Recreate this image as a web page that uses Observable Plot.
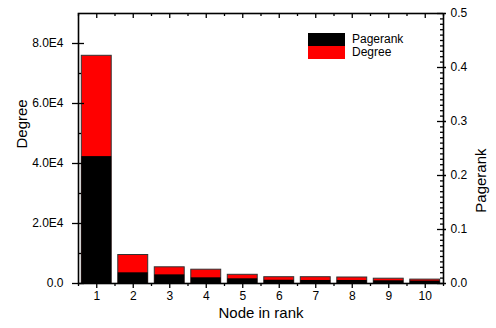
<!DOCTYPE html>
<html><head><meta charset="utf-8">
<script src="https://cdn.jsdelivr.net/npm/d3@7"></script>
<script src="https://cdn.jsdelivr.net/npm/@observablehq/plot@0.6"></script>
<style>
body{margin:0;background:#fff}
#chart{position:relative;width:496px;height:328px;font-family:"Liberation Sans",Arial,sans-serif;color:#000}
#legend{position:absolute;left:308px;top:33px;font-size:12px;line-height:13px}
#legend .row{display:flex;align-items:center;height:13px;overflow:visible}
#legend .sw{width:37px;height:13px;margin-right:7px}
</style>
</head><body>
<div id="chart"><div id="legend"></div></div>
<script>
const ranks = [1, 2, 3, 4, 5, 6, 7, 8, 9, 10];
const degree = [75900, 9500, 5400, 4600, 2900, 2100, 2100, 2000, 1600, 1300];
const pagerank = [0.235, 0.0198, 0.016, 0.0105, 0.0087, 0.006, 0.0056, 0.0056, 0.005, 0.0045];
const leftTicks = [0, 20000, 40000, 60000, 80000];
const leftMinor = [10000, 30000, 50000, 70000];
const rightTicks = [0, 0.1, 0.2, 0.3, 0.4, 0.5];
const rightMinor = d3.range(1, 50).filter(i => i % 10 !== 0).map(i => i / 100);
const edges = d3.range(0, 11).map(i => i + 0.5);
const xTitle = "Node in rank";
const yLeftTitle = "Degree";
const yRightTitle = "Pagerank";
const seriesNames = ["Pagerank", "Degree"];
const seriesColors = ["#000000", "#ff0000"];

const DEG_MAX = 90000, PR_MAX = 0.5, K = DEG_MAX / PR_MAX;
const halfW = 0.41;
const data = ranks.map((r, i) => ({rank: r, degree: degree[i], pagerank: pagerank[i]}));

const plot = Plot.plot({
  width: 496, height: 328,
  marginLeft: 78, marginRight: 53, marginTop: 13, marginBottom: 45,
  style: {fontFamily: '"Liberation Sans", Arial, sans-serif', fontSize: "12px", color: "#000", background: "#fff"},
  x: {domain: [0.5, 10.5]},
  y: {domain: [0, DEG_MAX]},
  marks: [
    Plot.rect(data, {x1: d => d.rank - halfW, x2: d => d.rank + halfW, y1: 0, y2: "degree", fill: seriesColors[1], stroke: "#333", strokeWidth: 1}),
    Plot.rect(data, {x1: d => d.rank - halfW, x2: d => d.rank + halfW, y1: 0, y2: d => d.pagerank * K, fill: seriesColors[0]}),
    Plot.frame({stroke: "#000", strokeWidth: 1.6}),
    Plot.axisX(ranks, {anchor: "bottom", tickSize: 5, tickPadding: 3, label: null, strokeWidth: 1.3}),
    Plot.axisX(edges, {anchor: "bottom", tickSize: 3, tickFormat: () => "", label: null, strokeWidth: 1.3}),
    Plot.ruleX(ranks, {x: d => d, insetBottom: 265, strokeWidth: 1.3}),
    Plot.ruleX(edges, {x: d => d, insetBottom: 267, strokeWidth: 1.3}),
    Plot.axisY(leftTicks, {anchor: "left", tickSize: 6, tickPadding: 9, label: null, strokeWidth: 1.3,
      tickFormat: d => d === 0 ? "0.0" : (d / 1e4).toFixed(1) + "E4"}),
    Plot.ruleY(leftTicks, {y: d => d, insetRight: 359, strokeWidth: 1.3}),
    Plot.ruleY(leftMinor, {y: d => d, insetRight: 362, strokeWidth: 1.3}),
    Plot.axisY(rightTicks.map(v => v * K), {anchor: "right", tickSize: 2, tickPadding: 5, label: null, strokeWidth: 1.3,
      tickFormat: d => (d / K).toFixed(1)}),
    Plot.ruleY(rightTicks.map(v => v * K), {y: d => d, insetLeft: 359, strokeWidth: 1.3}),
    Plot.ruleY(rightMinor.map(v => v * K), {y: d => d, insetLeft: 362, strokeWidth: 1.3}),
    Plot.text([xTitle], {text: d => d, frameAnchor: "bottom", dy: 34, fontSize: 15}),
    Plot.text([yLeftTitle], {text: d => d, frameAnchor: "left", dx: -56, rotate: -90, fontSize: 15}),
    Plot.text([yRightTitle], {text: d => d, frameAnchor: "right", dx: 38, rotate: -90, fontSize: 15})
  ]
});
const chart = document.getElementById("chart");
chart.insertBefore(plot, chart.firstChild);

const legend = document.getElementById("legend");
seriesNames.forEach((n, i) => {
  const row = document.createElement("div");
  row.className = "row";
  const sw = document.createElement("div");
  sw.className = "sw";
  sw.style.background = seriesColors[i];
  const t = document.createElement("span");
  t.textContent = n;
  row.appendChild(sw); row.appendChild(t);
  legend.appendChild(row);
});
</script>
</body></html>
